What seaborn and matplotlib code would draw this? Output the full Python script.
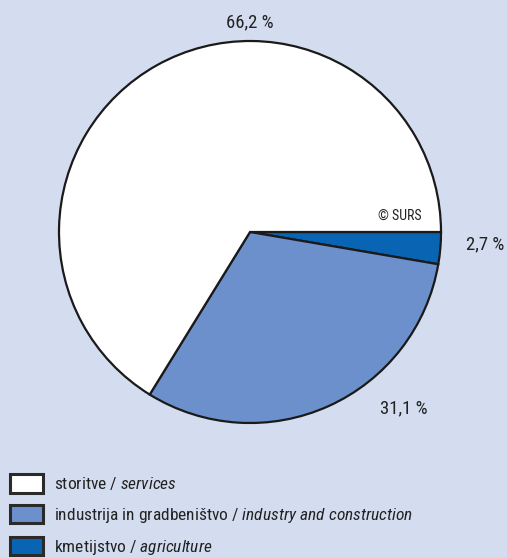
import matplotlib
matplotlib.use("Agg")
import matplotlib.pyplot as plt
import matplotlib.font_manager as fm
import seaborn as sns

sns.set_theme(style="white")
names = sorted({f.name for f in fm.fontManager.ttflist})
cands = ['Roboto Condensed', 'Liberation Sans Narrow', 'Liberation Sans']
fam = next(c for c in cands if c in names)
plt.rcParams['font.family'] = [fam, 'DejaVu Sans']
plt.rcParams['mathtext.fontset'] = 'custom'
plt.rcParams['mathtext.it'] = fam + ':italic'
plt.rcParams['mathtext.rm'] = fam

# Data (pie drawn clockwise from 3 o'clock)
categories = ["kmetijstvo", "industrija in gradbeništvo", "storitve"]
values = [2.7, 31.1, 66.2]
value_labels = ["2,7 %", "31,1 %", "66,2 %"]
legend_labels = [
    r"storitve / $\mathit{services}$",
    r"industrija in gradbeništvo / $\mathit{industry\ and\ construction}$",
    r"kmetijstvo / $\mathit{agriculture}$",
]
colors = ["#0965b3", "#6b90cc", "#ffffff"]
bg = "#d4ddf0"

W, H = 507, 558
fig = plt.figure(figsize=(W / 100, H / 100), dpi=100, facecolor=bg)
ax = fig.add_axes([0, 0, 1, 1])
ax.set_facecolor(bg)

cx, cy, r = 250, H - 232, 191
wedges, _ = ax.pie(values, colors=colors, startangle=0, counterclock=False,
                   center=(cx, cy), radius=r,
                   wedgeprops=dict(edgecolor="#1a1a1a", linewidth=1.6))
ax.set_xlim(0, W)
ax.set_ylim(0, H)
ax.set_aspect('auto')
ax.axis('off')

fs = 13.5
ax.text(250, H - 22, value_labels[2], ha='center', va='center', fontsize=fs, color='#222222')
ax.text(485, H - 244, value_labels[0], ha='center', va='center', fontsize=fs, color='#222222')
ax.text(404, H - 408, value_labels[1], ha='center', va='center', fontsize=fs, color='#222222')
ax.text(400, H - 216, "© SURS", ha='center', va='center', fontsize=10, color='#222222')

lfs = 12.5
fpx = lfs * 100 / 72
handles = [wedges[2], wedges[1], wedges[0]]
leg = fig.legend(handles, legend_labels, loc='upper left',
                 bbox_to_anchor=(10 / W, 1 - 474 / H), frameon=False,
                 fontsize=lfs, borderpad=0, borderaxespad=0,
                 handlelength=33 / fpx, handleheight=22 / fpx,
                 handletextpad=11 / fpx, labelspacing=12 / fpx,
                 labelcolor='#222222')
for h in leg.legend_handles:
    h.set_linewidth(2.2)
    h.set_edgecolor('#2a2a2a')

fig.savefig("out.png", dpi=100, facecolor=bg)
